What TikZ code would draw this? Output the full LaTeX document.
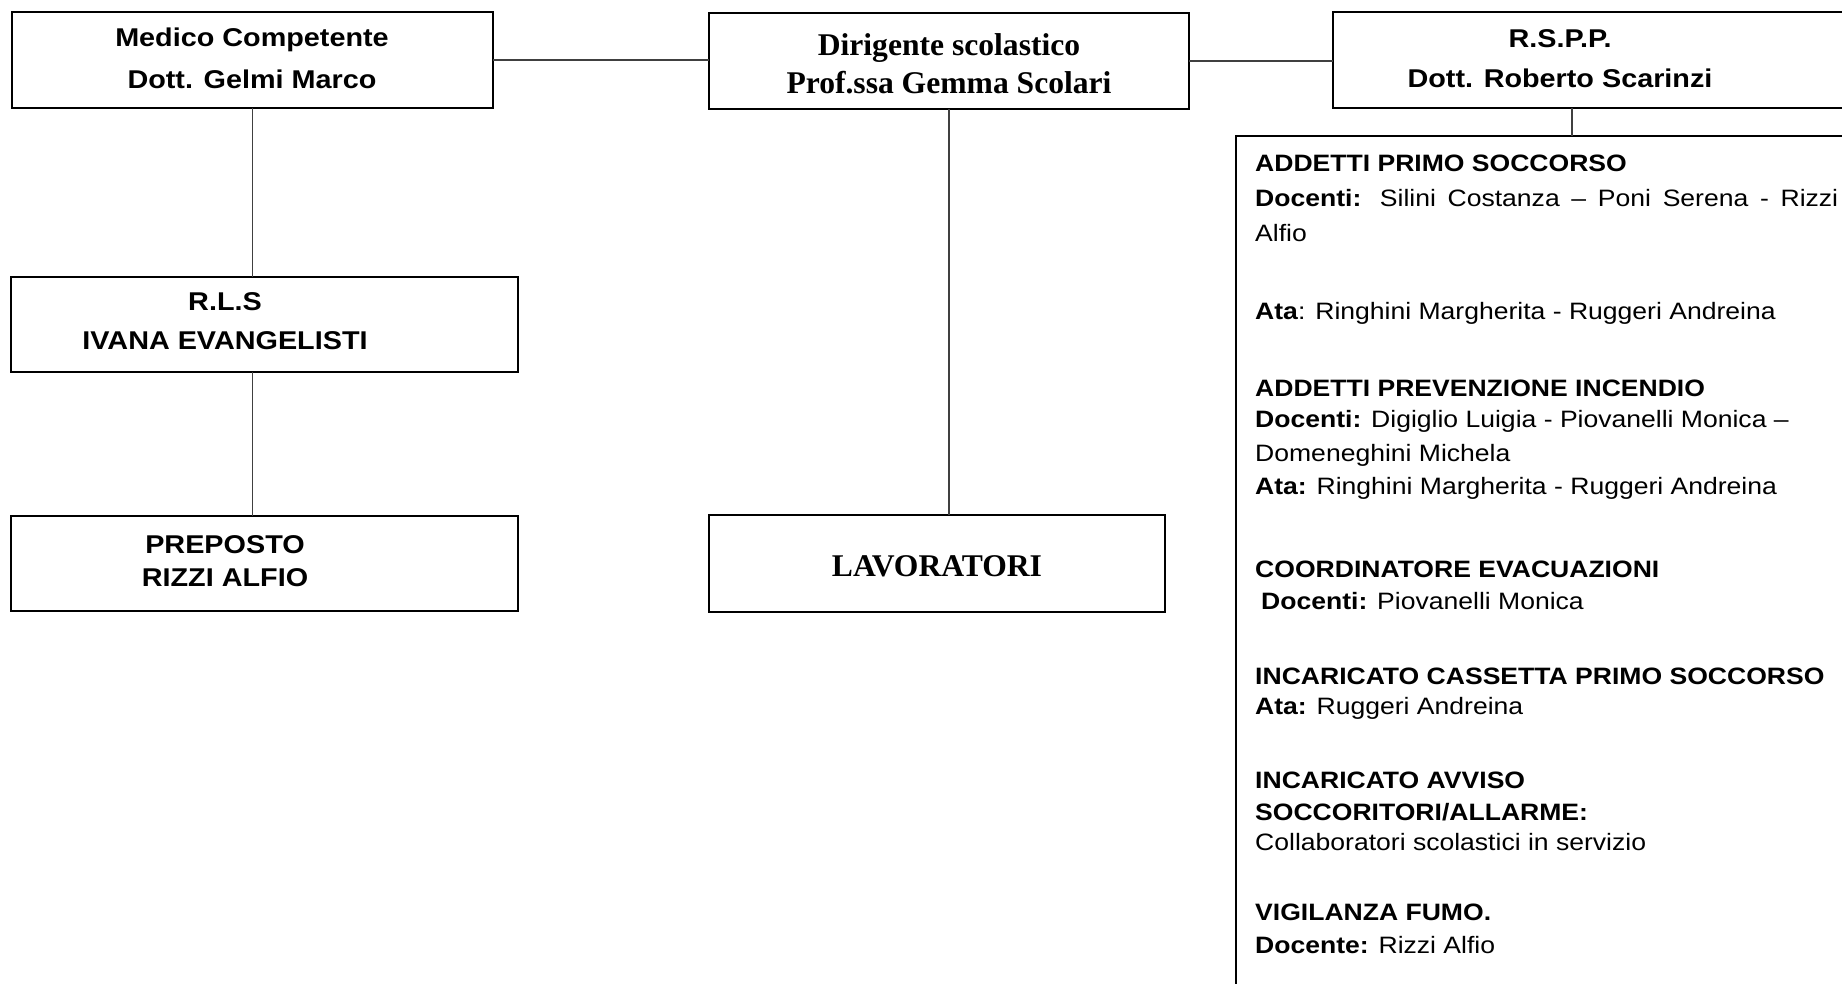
\documentclass[tikz,border=0pt]{standalone}
\usepackage{fontspec}
\setmainfont{Liberation Sans}[FakeStretch=1.12]
\newfontfamily\timesfont{Liberation Serif}
\newcommand\headfont[1]{\fontsize{25.7}{#1}\selectfont\bfseries}
\newcommand\listfont{\fontsize{23.7}{35}\selectfont}
\newcommand\serfont[1]{\timesfont\fontsize{31.6}{#1}\selectfont\bfseries}

\begin{document}
\begin{tikzpicture}[x=1pt, y=-1pt]
		% Styles
		\tikzstyle{orgbox}=[draw=black,line width=2pt,rectangle,inner sep=0pt,outer sep=0pt,anchor=north west]
		\tikzstyle{title}=[align=center,inner sep=0pt,anchor=base]
		\tikzstyle{entry}=[inner sep=0pt,anchor=base west,font=\listfont]
		\tikzstyle{conn}=[draw,line width=1.3pt,black!75]

		% Page frame
		\useasboundingbox (0,0) rectangle (1842,983);
		\clip (0,0) rectangle (1842,983);

		% Boxes
		\foreach \name/\x/\y/\w/\h in {med/12/12/481/96, dir/709/13/480/96, rspp/1333/12/600/96, rls/11/277/507/95, prep/11/516/507/95, lav/709/515/456/97, team/1236/136/700/900}
		\node[orgbox, minimum width=\w pt, minimum height=\h pt] (\name) at (\x,\y) {};

		% Labels of the boxes (anchored on the last line)
		\node[title, font={\headfont{42}}] (medtxt) at (252,88) {Medico Competente\\Dott. Gelmi Marco};
		\node[title, font={\serfont{38}}] (dirtxt) at (949,93) {Dirigente scolastico\\Prof.ssa Gemma Scolari};
		\node[title, font={\headfont{40}}] (rspptxt) at (1560,87) {R.S.P.P.\\Dott. Roberto Scarinzi};
		\node[title, font={\headfont{39}}] (rlstxt) at (225,349) {R.L.S\\IVANA EVANGELISTI};
		\node[title, font={\headfont{33}}] (preptxt) at (225,586) {PREPOSTO\\RIZZI ALFIO};
		\node[title, font={\serfont{40}}] (lavtxt) at (937,576) {LAVORATORI};

		% Lines of the team box
		\foreach \name/\y/\txt in {l1/171/{\textbf{ADDETTI PRIMO SOCCORSO}},
			l2/206/{\makebox[583pt][s]{\textbf{Docenti:} Silini Costanza – Poni Serena - Rizzi}},
			l3/241/{Alfio},
			l4/319/{\textbf{Ata}: Ringhini Margherita - Ruggeri Andreina},
			l5/396/{\textbf{ADDETTI PREVENZIONE INCENDIO}},
			l6/427/{\textbf{Docenti:} Digiglio Luigia - Piovanelli Monica –},
			l7/461/{Domeneghini Michela},
			l8/494/{\textbf{Ata:} Ringhini Margherita - Ruggeri Andreina},
			l9/577/{\textbf{COORDINATORE EVACUAZIONI}},
			l10/609/{\hspace*{6pt}\textbf{Docenti:} Piovanelli Monica},
			l11/684/{\textbf{INCARICATO CASSETTA PRIMO SOCCORSO}},
			l12/714/{\textbf{Ata:} Ruggeri Andreina},
			l13/788/{\textbf{INCARICATO AVVISO}},
			l14/820/{\textbf{SOCCORITORI/ALLARME:}},
			l15/850/{Collaboratori scolastici in servizio},
			l16/920/{\textbf{VIGILANZA FUMO.}},
			l17/953/{\textbf{Docente:} Rizzi Alfio}}
		\node[entry] (\name) at (1255,\y) {\txt};

		% Connect the boxes
		\path[conn] (med.east) -- (med.east -| dir.west);
		\path[conn] (dir.east) -- (dir.east -| rspp.west);
		\path[conn] (med.south) -- (med.south |- rls.north);
		\path[conn] (rls.south -| med.south) -- (prep.north -| med.south);
		\path[conn] (dir.south) -- (dir.south |- lav.north);
		\path[conn] ([xshift=12pt]rspptxt.south |- rspp.south) -- ([xshift=12pt]rspptxt.south |- team.north);
	\end{tikzpicture}
\end{document}
